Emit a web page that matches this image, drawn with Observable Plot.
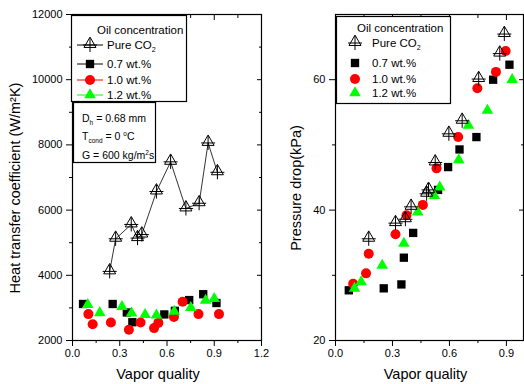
<!DOCTYPE html>
<html>
<head>
<meta charset="utf-8">
<script src="https://cdn.jsdelivr.net/npm/d3@7"></script>
<script src="https://cdn.jsdelivr.net/npm/@observablehq/plot@0.6"></script>
<style>
  body { margin: 0; background: #fff; }
  #wrap { position: relative; width: 524px; height: 384px; overflow: hidden; font-family: "Liberation Sans", Arial, sans-serif; background:#fff; }
  #wrap svg { position: absolute; top: 0; }
  .t { position: absolute; white-space: nowrap; line-height: 14px; color: #000; }
  .t sub, .t sup { font-size: 62%; line-height: 0; }
</style>
</head>
<body>
<div id="wrap"></div>
<script>
// ---------- Data: left panel (heat transfer coefficient, W/m2K) ----------
const pureX_L = [0.236, 0.274, 0.373, 0.413, 0.44, 0.533, 0.623, 0.72, 0.804, 0.861, 0.92];
const pureY_L = [4120, 5120, 5560, 5140, 5250, 6570, 7480, 6050, 6210, 8060, 7160];
const w07X_L = [0.067, 0.255, 0.345, 0.38, 0.583, 0.65, 0.741, 0.83, 0.914];
const w07Y_L = [3120, 3120, 2860, 2560, 2800, 2910, 3240, 3420, 3150];
const w10X_L = [0.101, 0.128, 0.244, 0.358, 0.432, 0.518, 0.545, 0.644, 0.699, 0.8, 0.93];
const w10Y_L = [2810, 2500, 2550, 2330, 2550, 2380, 2540, 2720, 3190, 2810, 2810];
const w12X_L = [0.097, 0.173, 0.314, 0.375, 0.461, 0.533, 0.646, 0.751, 0.845, 0.9];
const w12Y_L = [3100, 2850, 3040, 2840, 2790, 2780, 2890, 3010, 3230, 3280];

// ---------- Data: right panel (pressure drop, kPa) ----------
const pureX_R = [0.175, 0.316, 0.368, 0.398, 0.48, 0.49, 0.525, 0.597, 0.667, 0.754, 0.865, 0.889];
const pureY_R = [35.6, 38.0, 38.6, 40.5, 42.5, 43.1, 47.3, 51.7, 53.7, 60.1, 64.0, 67.0];
const w07X_R = [0.07, 0.254, 0.347, 0.36, 0.409, 0.54, 0.593, 0.653, 0.742, 0.83, 0.916];
const w07Y_R = [27.7, 28.0, 28.6, 32.7, 36.5, 43.1, 46.6, 49.3, 51.2, 60.0, 62.3];
const w10X_R = [0.093, 0.161, 0.175, 0.316, 0.374, 0.46, 0.532, 0.646, 0.747, 0.845, 0.896];
const w10Y_R = [28.7, 30.3, 33.3, 36.3, 39.2, 40.8, 46.4, 51.2, 58.7, 61.2, 64.4];
const w12X_R = [0.1, 0.135, 0.246, 0.36, 0.433, 0.521, 0.549, 0.649, 0.7, 0.8, 0.93];
const w12Y_R = [28.0, 29.0, 31.5, 34.9, 39.7, 42.2, 43.5, 47.7, 53.0, 55.3, 60.0];

// ---------- Ticks & labels ----------
const xMajorL = [0, 0.3, 0.6, 0.9, 1.2];
const xMinorL = [0.15, 0.45, 0.75, 1.05];
const yMajorL = [2000, 4000, 6000, 8000, 10000, 12000];
const yMinorL = [3000, 5000, 7000, 9000, 11000];
const xMajorR = [0, 0.3, 0.6, 0.9];
const xMinorR = [0.15, 0.45, 0.75];
const yMajorR = [20, 40, 60];
const yMinorR = [30, 50];
const xTitle = "Vapor quality";
const yTitleL = "Heat transfer coefficient (W/m²K)";
const yTitleR = "Pressure drop(kPa)";
const seriesNames = ["0.7 wt.%", "1.0 wt.%", "1.2 wt.%"];
const legendTitle = "Oil concentration";

const zip = (xs, ys) => xs.map((x, i) => ({x, y: ys[i]}));
const GREEN = "#00ff00", RED = "#ff0000";
const R = {sq: 4.7, ci: 5, tri: 4.3, open: 4.45, plus: 4.6};
const FONT = '"Liberation Sans", Arial, sans-serif';

function panel(o) {
  const blank = () => "";
  const marks = [
    Plot.frame({stroke: "black", strokeWidth: 1.2}),
    Plot.axisX(o.xMajor, {anchor: "bottom", tickSize: 6, tickPadding: 3, tickFormat: d => d.toFixed(1), label: null, fontSize: 11}),
    Plot.axisX(o.xMinor, {anchor: "bottom", tickSize: 3, tickFormat: blank, label: null}),
    Plot.axisX(o.xMajor, {anchor: "top", tickSize: 5, dy: 5, tickFormat: blank, label: null}),
    Plot.axisX(o.xMinor, {anchor: "top", tickSize: 3, dy: 3, tickFormat: blank, label: null}),
    Plot.axisY(o.yMajor, {anchor: "left", tickSize: 6, tickPadding: 4, tickFormat: d => String(d), label: null, fontSize: 11}),
    Plot.axisY(o.yMinor, {anchor: "left", tickSize: 3, tickFormat: blank, label: null}),
    Plot.axisY(o.yMajor, {anchor: "right", tickSize: 5, dx: -5, tickFormat: blank, label: null}),
    Plot.axisY(o.yMinor, {anchor: "right", tickSize: 3, dx: -3, tickFormat: blank, label: null}),
    Plot.text([o.yTitle], {frameAnchor: "left", text: d => d, rotate: -90, textAnchor: "middle", lineAnchor: "middle", dx: o.yTitleDx, dy: 10.5, fontSize: 14.5}),
    Plot.text([xTitle], {frameAnchor: "bottom", text: d => d, textAnchor: "middle", lineAnchor: "middle", dy: 34, dx: o.xTitleDx, fontSize: 14.5}),
  ];
  if (o.line) marks.push(Plot.line(o.pure, {x: "x", y: "y", stroke: "black", strokeWidth: 0.8}));
  marks.push(
    Plot.dot(o.w07, {x: "x", y: "y", symbol: "square", fill: "black", r: R.sq}),
    Plot.dot(o.w10, {x: "x", y: "y", symbol: "circle", fill: RED, r: R.ci}),
    Plot.dot(o.w12, {x: "x", y: "y", symbol: "triangle", fill: GREEN, r: R.tri}),
    Plot.dot(o.pure, {x: "x", y: "y", symbol: "triangle", fill: "none", stroke: "black", strokeWidth: 1, r: R.open, dy: -1}),
    Plot.dot(o.pure, {x: "x", y: "y", symbol: "plus", stroke: "black", strokeWidth: 1, r: R.plus})
  );
  return Plot.plot({
    width: o.width, height: 384,
    marginLeft: o.marginLeft, marginRight: o.marginRight, marginTop: 14, marginBottom: 44,
    x: {domain: o.xDomain}, y: {domain: o.yDomain},
    style: {fontFamily: FONT, fontSize: "11px", color: "black", background: "transparent", overflow: "visible"},
    marks
  });
}

const wrap = document.getElementById("wrap");
const left = panel({
  width: 270, marginLeft: 72, marginRight: 9, xDomain: [0, 1.2], yDomain: [2000, 12000],
  xMajor: xMajorL, xMinor: xMinorL, yMajor: yMajorL, yMinor: yMinorL,
  yTitle: yTitleL, yTitleDx: -57, xTitleDx: -9, line: true,
  pure: zip(pureX_L, pureY_L), w07: zip(w07X_L, w07Y_L), w10: zip(w10X_L, w10Y_L), w12: zip(w12X_L, w12Y_L)
});
left.style.left = "0px";
wrap.appendChild(left);
const right = panel({
  width: 254, marginLeft: 65, marginRight: 1, xDomain: [0, 0.99], yDomain: [20, 70],
  xMajor: xMajorR, xMinor: xMinorR, yMajor: yMajorR, yMinor: yMinorR,
  yTitle: yTitleR, yTitleDx: -39, xTitleDx: -4, line: false,
  pure: zip(pureX_R, pureY_R), w07: zip(w07X_R, w07Y_R), w10: zip(w10X_R, w10Y_R), w12: zip(w12X_R, w12Y_R)
});
right.style.left = "270px";
wrap.appendChild(right);

// ---------- Legends & annotation (overlay) ----------
const ov = d3.select(wrap).append("svg").attr("width", 524).attr("height", 384).style("left", "0px");
function box(x, y, w, h) {
  ov.append("rect").attr("x", x + 0.5).attr("y", y + 0.5).attr("width", w).attr("height", h)
    .attr("fill", "#fff").attr("stroke", "#000").attr("stroke-width", 1.2);
}
function sym(type, r, cx, cy, fill, stroke) {
  ov.append("path").attr("d", d3.symbol().type(type).size(Math.PI * r * r)())
    .attr("transform", `translate(${cx},${cy})`).attr("fill", fill).attr("stroke", stroke || "none").attr("stroke-width", 1);
}
function marker(kind, cx, cy) {
  if (kind === 0) { sym(d3.symbolTriangle, R.open, cx, cy - 1, "none", "#000"); sym(d3.symbolPlus, R.plus, cx, cy, "none", "#000"); }
  if (kind === 1) sym(d3.symbolSquare, R.sq, cx, cy, "#000");
  if (kind === 2) sym(d3.symbolCircle, R.ci, cx, cy, RED);
  if (kind === 3) sym(d3.symbolTriangle, R.tri, cx, cy, GREEN);
}
function text(html, x, yc, size) {
  const d = document.createElement("div");
  d.className = "t";
  d.style.left = x + "px"; d.style.top = (yc - 7) + "px"; d.style.fontSize = size + "px";
  d.innerHTML = html;
  wrap.appendChild(d);
}
const labels = ["Pure CO<sub>2</sub>", ...seriesNames];
const lineColors = ["#000", "#000", RED, GREEN];

// left legend
box(71, 15, 115, 86);
text(legendTitle, 97, 30, 11.5);
[45, 64, 80, 95].forEach((yc, i) => {
  ov.append("line").attr("x1", 77).attr("x2", 103).attr("y1", yc).attr("y2", yc).attr("stroke", lineColors[i]).attr("stroke-width", 1);
  marker(i, 90, yc);
  text(labels[i], 107, yc, 11.5);
});
// annotation box
box(73, 102, 82, 60);
text("D<sub>h</sub> = 0.68 mm", 82, 118, 10.5);
text("T<sub>cond</sub> = 0 <sup>o</sup>C", 82, 136, 10.5);
text("G = 600 kg/m<sup>2</sup>s", 82, 155, 10.5);

// right legend
box(336, 16, 114, 87);
text(legendTitle, 357, 28, 11.5);
[43, 63, 79, 93].forEach((yc, i) => {
  marker(i, 355, yc);
  text(labels[i], 372, yc, 11.5);
});
</script>
</body>
</html>
